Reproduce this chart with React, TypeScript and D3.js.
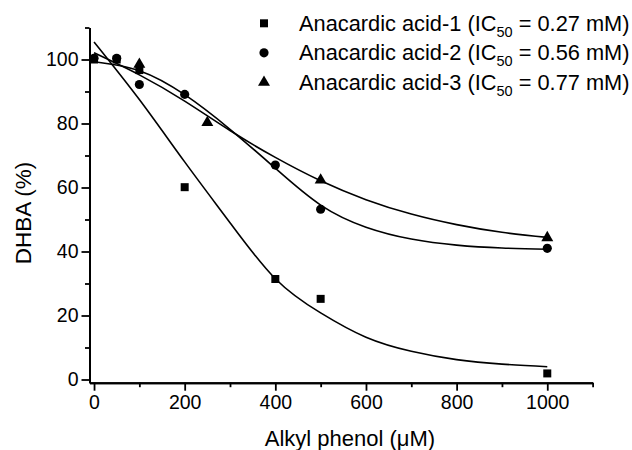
import React, { useEffect, useRef } from 'react';
import * as d3 from 'd3';

// measured points (dose in uM, DHBA %)
const doseAA1 = [0, 50, 100, 200, 400, 500, 1000];
const dhbaAA1 = [100, 100, 96.7, 60.1, 31.4, 25.2, 1.9];
const doseAA2 = [0, 50, 100, 200, 400, 500, 1000];
const dhbaAA2 = [100.4, 100.4, 92.2, 89.1, 67, 53.2, 41];
const doseAA3 = [100, 250, 500, 1000];
const dhbaAA3 = [98.5, 80.3, 62.3, 44.3];

// fitted curves
const fitDose = [0, 100, 200, 300, 400, 500, 600, 700, 800, 900, 1000];
const fitAA1 = [105.5, 87.5, 68.0, 49.0, 31.5, 20.8, 13.2, 8.8, 6.2, 4.8, 4.0];
const fitAA2 = [99.3, 96.5, 89.0, 78.2, 66.0, 54.5, 47.6, 43.9, 42.0, 41.1, 40.7];
const fitAA3 = [102.1, 95.2, 87.0, 77.8, 69.4, 62.1, 56.2, 51.7, 48.4, 46.0, 44.4];

const legendNames = ['Anacardic acid-1', 'Anacardic acid-2', 'Anacardic acid-3'];
const ic50 = ['0.27', '0.56', '0.77'];

const xMajor = [0, 200, 400, 600, 800, 1000];
const xMinor = [100, 300, 500, 700, 900, 1100];
const yMajor = [0, 20, 40, 60, 80, 100];
const yMinor = [10, 30, 50, 70, 90, 110];

const FONT = '"Liberation Sans", Arial, Helvetica, sans-serif';

function Chart() {
  const ref = useRef<SVGSVGElement>(null);

  useEffect(() => {
    const width = 632;
    const height = 450;
    const svg = d3.select(ref.current).attr('width', width).attr('height', height);
    svg.selectAll('*').remove();

    const x = d3.scaleLinear().domain([-10, 1100]).range([89.5, 592.6]);
    const y = d3.scaleLinear().domain([-1, 110]).range([382.7, 27.5]);

    const symbols = [d3.symbolSquare, d3.symbolCircle, d3.symbolTriangle];
    const sizes = [64, 66, 62];

    // axes
    const gx = svg.append('g').attr('transform', `translate(0, ${y(-1)})`);
    gx.call(d3.axisBottom(x).tickValues(xMajor).tickSize(8).tickSizeOuter(0).tickPadding(4).tickFormat(d3.format('d')));
    const gxm = svg.append('g').attr('transform', `translate(0, ${y(-1)})`);
    gxm.call(d3.axisBottom(x).tickValues(xMinor).tickSize(4.5).tickSizeOuter(0).tickFormat(() => ''));

    const gy = svg.append('g').attr('transform', `translate(${x(-10)}, 0)`);
    gy.call(d3.axisLeft(y).tickValues(yMajor).tickSize(8).tickSizeOuter(0).tickPadding(3).tickFormat(d3.format('d')));
    const gym = svg.append('g').attr('transform', `translate(${x(-10)}, 0)`);
    gym.call(d3.axisLeft(y).tickValues(yMinor).tickSize(4.5).tickSizeOuter(0).tickFormat(() => ''));

    svg.selectAll('.domain').attr('stroke', '#000').attr('stroke-width', 2);
    svg.selectAll('.tick line').attr('stroke', '#000').attr('stroke-width', 1.8);
    svg.selectAll('.tick text')
      .attr('fill', '#000')
      .style('font-family', FONT)
      .style('font-size', '19.5px');

    // fitted curves
    const line = d3.line<number>()
      .x((d, i) => x(fitDose[i]))
      .y(d => y(d))
      .curve(d3.curveNatural);

    [fitAA1, fitAA2, fitAA3].forEach(fit => {
      svg.append('path')
        .attr('d', line(fit))
        .attr('fill', 'none')
        .attr('stroke', '#000')
        .attr('stroke-width', 1.6);
    });

    // points
    const series = [
      { dose: doseAA1, val: dhbaAA1 },
      { dose: doseAA2, val: dhbaAA2 },
      { dose: doseAA3, val: dhbaAA3 },
    ];
    series.forEach((s, k) => {
      const sym = d3.symbol().type(symbols[k]).size(sizes[k]);
      svg.append('g')
        .selectAll('path')
        .data(s.val)
        .enter()
        .append('path')
        .attr('d', sym())
        .attr('transform', (d, i) => `translate(${x(s.dose[i])}, ${y(d)})`)
        .attr('fill', '#000');
    });

    // legend
    const legend = svg.append('g');
    legendNames.forEach((name, k) => {
      const ly = 23.3 + k * 29.5;
      legend.append('path')
        .attr('d', d3.symbol().type(symbols[k]).size(sizes[k])())
        .attr('transform', `translate(264, ${ly})`)
        .attr('fill', '#000');
      const t = legend.append('text')
        .attr('x', 299)
        .attr('y', ly + 7.5)
        .style('font-family', FONT)
        .style('font-size', '21.8px')
        .attr('fill', '#000');
      t.append('tspan').text(`${name} (IC`);
      t.append('tspan').attr('dy', 6).style('font-size', '14.5px').text('50');
      t.append('tspan').attr('dy', -6).text(` = ${ic50[k]} mM)`);
    });

    // axis titles
    svg.append('text')
      .attr('x', 350)
      .attr('y', 446)
      .attr('text-anchor', 'middle')
      .style('font-family', FONT)
      .style('font-size', '22px')
      .text('Alkyl phenol (\u03bcM)');

    svg.append('text')
      .attr('transform', `translate(31, 213) rotate(-90)`)
      .attr('text-anchor', 'middle')
      .style('font-family', FONT)
      .style('font-size', '22.5px')
      .text('DHBA (%)');
  }, []);

  return <svg ref={ref} style={{ position: 'absolute', left: 0, top: 0, background: '#fff' }} />;
}

export default function App() {
  return <Chart />;
}
